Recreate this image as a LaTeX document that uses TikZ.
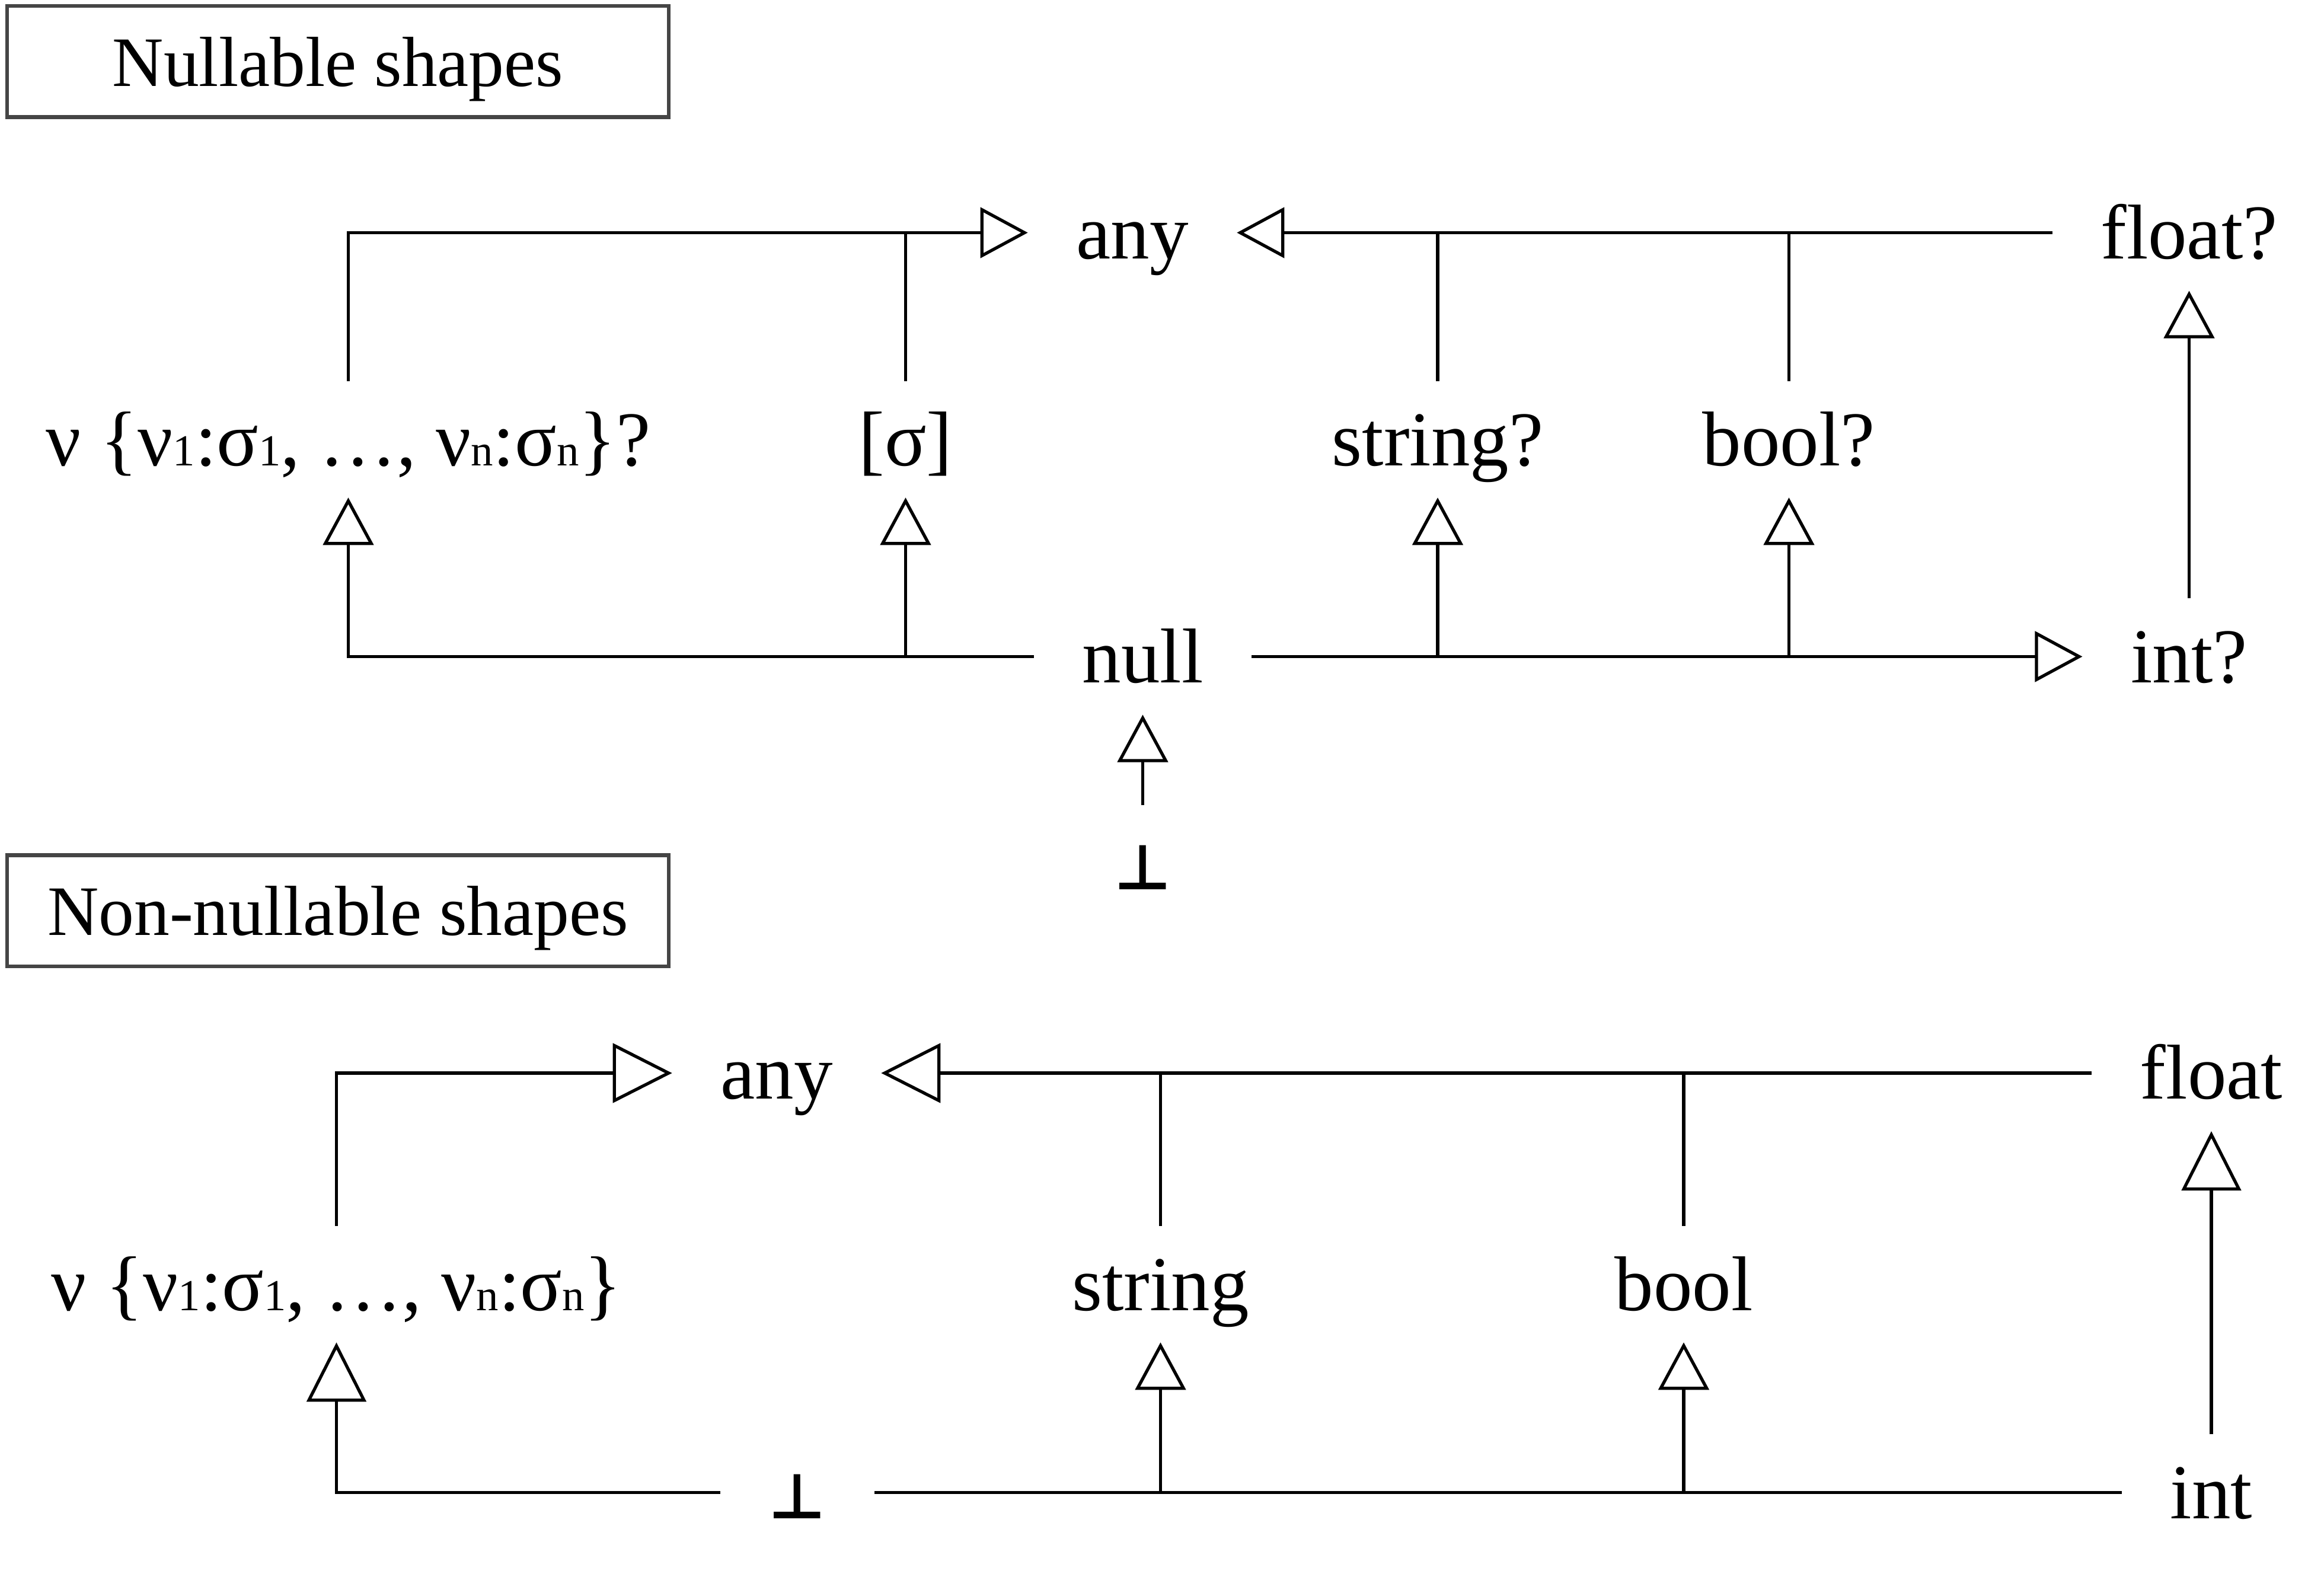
\documentclass[tikz,border=0pt]{standalone}
\usepackage{fontspec}
\setmainfont{Liberation Serif}
\newfontfamily\symfont{DejaVu Sans}
\usetikzlibrary{arrows.meta}

\newcommand{\sbs}[1]{{\fontsize{8.5}{9}\selectfont #1}}
\newcommand{\bottype}{{\symfont\bfseries\fontsize{12}{14}\selectfont ⊥}}

\tikzset{
  ty/.style={inner xsep=0.32cm, inner ysep=0.1cm, text height=0.46cm, text depth=0.11cm,
    font=\fontsize{14.9}{17}\selectfont},
  link/.style={line width=0.6pt},
  isa/.style={link, -{Triangle[open,length=0.32cm,width=0.34cm]}},
  isabig/.style={link, -{Triangle[open,length=0.4cm,width=0.4cm]}},
  groupbox/.style={draw=black!73, line width=0.7pt, minimum width=4.46cm, minimum height=0.75cm,
    inner ysep=0.05cm, text height=0.45cm, text depth=0.12cm, font=\fontsize{13.6}{16}\selectfont}
}

\begin{document}
\begin{tikzpicture}[x=0.01cm,y=-0.01cm]
\useasboundingbox (0,0) rectangle (1568,1064);

% nullable shapes
\node[groupbox] (nullable) at (228,41.5) {Nullable shapes};

\node[ty] (any) at (764,157) {any};
\node[ty] (fl) at (1477,157) {float?};
\node[ty] (rec) at (235,296.5) {ν \{ν\sbs{1}:σ\sbs{1}, …, ν\sbs{n}:σ\sbs{n}\}?};
\node[ty] (sig) at (611,296.5) {[σ]};
\node[ty] (str) at (970,296.5) {string?};
\node[ty] (bool) at (1207,296.5) {bool?};
\node[ty] (null) at (771,443) {null};
\node[ty] (inull) at (1477,443) {int?};
\node[ty] (bot) at (771,582.5) {\bottype};

\draw[isa] (rec.north) |- (any.west);
\draw[link] (sig.north) -- (sig.north |- any.west);
\draw[isa] (fl.west) -- (any.east);
\draw[link] (str.north) -- (str.north |- any.east);
\draw[link] (bool.north) -- (bool.north |- any.east);

\draw[isa] (null.west) -| (rec.south);
\draw[isa] (null.west -| sig.south) -- (sig.south);
\draw[isa] (null.east) -- (inull.west);
\draw[isa] (null.east -| str.south) -- (str.south);
\draw[isa] (null.east -| bool.south) -- (bool.south);

\draw[isa] (inull.north) -- (fl.south);
\draw[isa] (bot.north) -- (null.south);

% non-nullable shapes
\node[groupbox] (nonnullable) at (228,614.5) {Non-nullable shapes};

\node[ty] (any2) at (524,724) {any};
\node[ty] (fl2) at (1492,724) {float};
\node[ty] (rec2) at (227,866.5) {ν \{ν\sbs{1}:σ\sbs{1}, …, ν\sbs{n}:σ\sbs{n}\}};
\node[ty] (str2) at (783,866.5) {string};
\node[ty] (bool2) at (1136,866.5) {bool};
\node[ty] (bot2) at (538,1007) {\bottype};
\node[ty] (int2) at (1492,1007) {int};

\draw[isabig] (rec2.north) |- (any2.west);
\draw[isabig] (fl2.west) -- (any2.east);
\draw[link] (str2.north) -- (str2.north |- any2.east);
\draw[link] (bool2.north) -- (bool2.north |- any2.east);

\draw[isabig] (bot2.west) -| (rec2.south);
\draw[link] (bot2.east) -- (int2.west);
\draw[isa] (bot2.east -| str2.south) -- (str2.south);
\draw[isa] (bot2.east -| bool2.south) -- (bool2.south);

\draw[isabig] (int2.north) -- (fl2.south);
\end{tikzpicture}
\end{document}
